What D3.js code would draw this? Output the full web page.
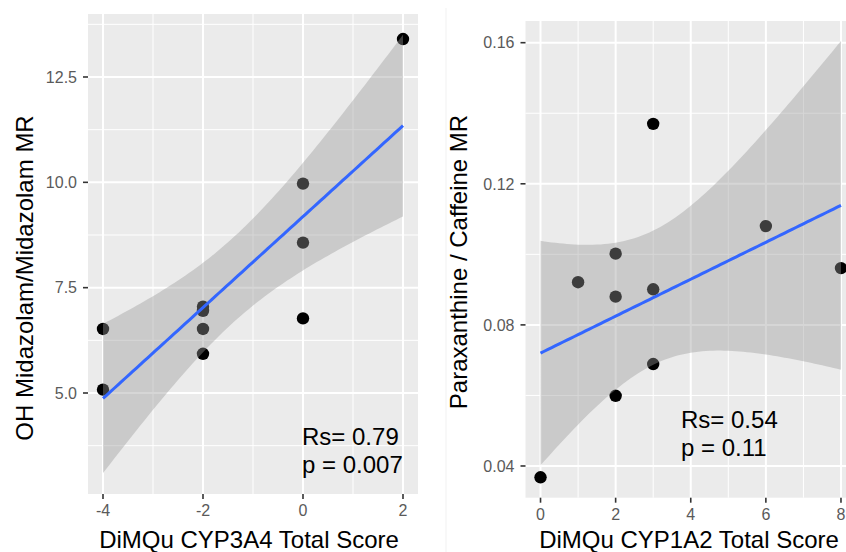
<!DOCTYPE html>
<html><head><meta charset="utf-8">
<script src="https://cdn.jsdelivr.net/npm/d3@7"></script>
<style>
body{margin:0;background:#fff}
svg{display:block}
text{font-family:"Liberation Sans",Arial,Helvetica,sans-serif}
</style>
</head><body>
<svg id="chart" width="846" height="552"></svg>
<script>
// ---------- data ----------
const cyp3a4Score   = [2, 0, 0, 0, -2, -2, -2, -2, -4, -4];
const midazolamMR   = [13.4, 9.97, 8.57, 6.77, 7.05, 6.95, 6.52, 5.93, 6.52, 5.08];
const cyp1a2Score   = [0, 1, 2, 2, 2, 3, 3, 3, 6, 8];
const paraxanthineMR = [0.0368, 0.0921, 0.1002, 0.0880, 0.0599, 0.137, 0.0901, 0.0689, 0.108, 0.0961];

const leftXMajor = [-4, -2, 0, 2];
const leftXMinor = [-3, -1, 1];
const leftYMajor = [5.0, 7.5, 10.0, 12.5];
const leftYMinor = [3.75, 6.25, 8.75, 11.25, 13.75];
const rightXMajor = [0, 2, 4, 6, 8];
const rightXMinor = [1, 3, 5, 7];
const rightYMajor = [0.04, 0.08, 0.12, 0.16];
const rightYMinor = [0.06, 0.10, 0.14];

const leftTitles  = {x: "DiMQu CYP3A4 Total Score", y: "OH Midazolam/Midazolam MR"};
const rightTitles = {x: "DiMQu CYP1A2 Total Score", y: "Paraxanthine / Caffeine MR"};
const leftStats  = ["Rs= 0.79", "p = 0.007"];
const rightStats = ["Rs= 0.54", "p = 0.11"];

const T_975_DF8 = 2.306004; // Student t quantile, 95% CI, n-2 = 8 df

// ---------- helpers ----------
function linFit(xs, ys) {
  const n = xs.length, mx = d3.mean(xs), my = d3.mean(ys);
  const sxx = d3.sum(xs, x => (x - mx) ** 2);
  const sxy = d3.sum(xs.map((x, i) => (x - mx) * (ys[i] - my)));
  const b = sxy / sxx, a = my - b * mx;
  const sse = d3.sum(xs.map((x, i) => (ys[i] - a - b * x) ** 2));
  const s = Math.sqrt(sse / (n - 2));
  return {a, b, s, n, mx, sxx};
}

const svg = d3.select("#chart");

function drawPanel(cfg) {
  const {xs, ys, x, y, xMajor, xMinor, yMajor, yMinor, yFmt, titles, stats} = cfg;
  const g = svg.append("g");
  const [x0, x1] = x.range();
  const [yb, yt] = y.range();

  g.append("rect").attr("x", x0).attr("y", yt)
    .attr("width", x1 - x0).attr("height", yb - yt).attr("fill", "#EBEBEB");

  // minor grid
  g.selectAll(".vmin").data(xMinor).join("line")
    .attr("x1", d => x(d)).attr("x2", d => x(d)).attr("y1", yt).attr("y2", yb)
    .attr("stroke", "#fff").attr("stroke-width", 1);
  g.selectAll(".hmin").data(yMinor).join("line")
    .attr("y1", d => y(d)).attr("y2", d => y(d)).attr("x1", x0).attr("x2", x1)
    .attr("stroke", "#fff").attr("stroke-width", 1);
  // major grid
  g.selectAll(".vmaj").data(xMajor).join("line")
    .attr("x1", d => x(d)).attr("x2", d => x(d)).attr("y1", yt).attr("y2", yb)
    .attr("stroke", "#fff").attr("stroke-width", 2);
  g.selectAll(".hmaj").data(yMajor).join("line")
    .attr("y1", d => y(d)).attr("y2", d => y(d)).attr("x1", x0).attr("x2", x1)
    .attr("stroke", "#fff").attr("stroke-width", 2);

  // points (under the ribbon, as in ggplot layer order)
  g.selectAll(".pt").data(xs.map((v, i) => [v, ys[i]])).join("circle")
    .attr("cx", d => x(d[0])).attr("cy", d => y(d[1])).attr("r", 6.2)
    .attr("fill", "#000");

  // regression + CI ribbon
  const f = linFit(xs, ys);
  const [xmin, xmax] = d3.extent(xs);
  const grid = d3.range(0, 81).map(i => xmin + (xmax - xmin) * i / 80);
  const band = grid.map(xv => {
    const fit = f.a + f.b * xv;
    const se = f.s * Math.sqrt(1 / f.n + (xv - f.mx) ** 2 / f.sxx);
    return {x: xv, fit, lo: fit - T_975_DF8 * se, hi: fit + T_975_DF8 * se};
  });
  g.append("path").datum(band)
    .attr("d", d3.area().x(d => x(d.x)).y0(d => y(d.lo)).y1(d => y(d.hi)))
    .attr("fill", "#999999").attr("fill-opacity", 0.4);
  g.append("path").datum(band)
    .attr("d", d3.line().x(d => x(d.x)).y(d => y(d.fit)))
    .attr("fill", "none").attr("stroke", "#3366FF").attr("stroke-width", 3);

  // axes ticks
  g.selectAll(".xt").data(xMajor).join("line")
    .attr("x1", d => x(d)).attr("x2", d => x(d)).attr("y1", yb).attr("y2", yb + 5)
    .attr("stroke", "#333").attr("stroke-width", 1.6);
  g.selectAll(".xl").data(xMajor).join("text")
    .attr("x", d => x(d)).attr("y", yb + cfg.xLabDy)
    .attr("text-anchor", "middle").attr("font-size", 16).attr("fill", "#5a5a5a")
    .text(d => String(d));
  g.selectAll(".yt").data(yMajor).join("line")
    .attr("x1", x0 - 5).attr("x2", x0).attr("y1", d => y(d)).attr("y2", d => y(d))
    .attr("stroke", "#333").attr("stroke-width", 1.6);
  g.selectAll(".yl").data(yMajor).join("text")
    .attr("x", x0 - 11).attr("y", d => y(d)).attr("dy", "0.36em")
    .attr("text-anchor", "end").attr("font-size", 16).attr("fill", "#5a5a5a")
    .text(d => yFmt(d));

  // titles
  g.append("text").attr("x", cfg.xTitlePos[0]).attr("y", cfg.xTitlePos[1])
    .attr("text-anchor", "middle").attr("font-size", 24).attr("fill", "#000")
    .text(titles.x);
  g.append("text")
    .attr("transform", `translate(${cfg.yTitlePos[0]},${cfg.yTitlePos[1]}) rotate(-90)`)
    .attr("text-anchor", "middle").attr("font-size", 24).attr("fill", "#000")
    .text(titles.y);

  // stats annotation
  g.selectAll(".st").data(stats).join("text")
    .attr("x", cfg.statPos[0]).attr("y", (d, i) => cfg.statPos[1] + i * 28)
    .attr("font-size", 24).attr("fill", "#000")
    .text(d => d);
}

// faint frame line seen between the two panels
svg.append("line").attr("x1", 446).attr("x2", 446).attr("y1", 8).attr("y2", 552)
  .attr("stroke", "#f1f1f1").attr("stroke-width", 1);

drawPanel({
  xs: cyp3a4Score, ys: midazolamMR,
  x: d3.scaleLinear().domain([-4.3, 2.3]).range([88, 418]),
  y: d3.scaleLinear().domain([2.603, 13.995]).range([494, 14]),
  xMajor: leftXMajor, xMinor: leftXMinor, yMajor: leftYMajor, yMinor: leftYMinor,
  yFmt: d3.format(".1f"), titles: leftTitles, stats: leftStats,
  xLabDy: 22, xTitlePos: [249, 548], yTitlePos: [33, 278], statPos: [302, 445]
});

drawPanel({
  xs: cyp1a2Score, ys: paraxanthineMR,
  x: d3.scaleLinear().domain([-0.4, 8.4]).range([525.5, 856]),
  y: d3.scaleLinear().domain([0.03101, 0.16615]).range([497.7, 21]),
  xMajor: rightXMajor, xMinor: rightXMinor, yMajor: rightYMajor, yMinor: rightYMinor,
  yFmt: d3.format(".2f"), titles: rightTitles, stats: rightStats,
  xLabDy: 22, xTitlePos: [689, 548], yTitlePos: [467, 262], statPos: [681, 428]
});
</script>
</body></html>
